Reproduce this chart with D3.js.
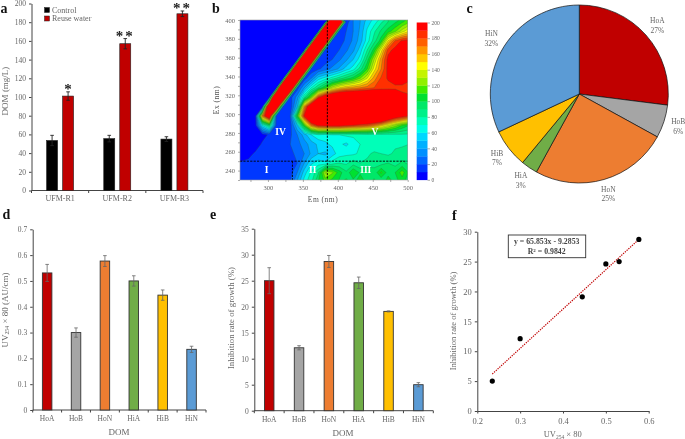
<!DOCTYPE html>
<html><head><meta charset="utf-8">
<script src="https://cdn.jsdelivr.net/npm/d3@7"></script>
<style>
html,body{margin:0;padding:0;background:#fff}
svg{display:block;filter:blur(0.3px)}
text{font-family:"Liberation Serif",serif;fill:#666}
</style></head><body><div id="c"></div>
<script>
// ---- panel a
const filmGroups=["UFM-R1","UFM-R2","UFM-R3"];
const controlDom=[53.5,55.5,55];
const controlErr=[5.5,3.5,2.5];
const reuseDom=[101,157,189];
const reuseErr=[4.5,5.5,3];
const reuseStars=["*","**","**"];
const domTicks=[0,20,40,60,80,100,120,140,160,180,200];
// ---- panel b: fluorescence EEM read by eye (10 nm steps; scatter ridge values are off-scale)
const emStart=262, exStart=398, gridStep=10;
const eem=[
[0,0,0,0,0,0,0,0,0,0,0,0,0,475,306,15,30,40,55,65,78,90,98,108,118],
[0,0,0,0,0,0,0,0,0,0,0,0,475,306,10,20,30,42,62,78,92,105,118,135,150],
[0,0,0,0,0,0,0,0,0,0,0,475,306,10,15,22,32,45,65,85,105,150,180,192,195],
[0,0,0,0,0,0,0,0,0,0,475,306,12,15,20,28,38,55,80,105,145,185,195,200,195],
[0,0,0,0,0,0,0,0,0,475,306,12,15,20,28,38,50,65,95,130,165,195,205,210,205],
[0,0,0,0,0,0,0,0,475,306,12,18,25,33,42,55,65,85,110,145,170,195,205,210,205],
[0,0,0,0,0,0,0,475,306,15,30,55,65,75,85,95,105,120,140,165,182,192,200,200,195],
[0,0,0,0,0,0,475,306,15,40,70,90,110,135,150,160,165,170,175,180,182,184,186,186,180],
[0,0,0,0,0,400,280,15,35,80,120,185,215,230,240,240,240,240,240,240,240,230,215,195,195],
[0,0,0,0,280,260,15,12,50,165,225,260,260,260,260,260,260,260,260,260,260,260,260,260,260],
[0,0,0,170,230,15,10,20,110,195,260,260,260,260,260,260,260,260,260,260,260,230,210,200,190],
[0,0,5,60,90,15,10,15,50,110,170,195,200,200,200,195,190,185,180,170,155,140,125,110,100],
[0,0,0,5,12,15,15,18,30,45,60,68,65,70,70,72,72,74,75,75,76,76,77,78,78],
[0,0,3,12,14,15,16,20,26,35,45,52,58,62,62,58,65,70,72,72,75,78,78,78,80],
[2,6,12,13,14,15,16,18,22,30,42,50,48,55,65,68,68,72,78,82,80,78,82,85,80],
[12,13,13,13,14,14,15,14,20,40,58,65,62,75,80,78,85,80,82,88,85,90,85,92,88],
[14,18,17,16,17,18,19,16,30,55,72,88,132,122,105,92,110,98,100,92,112,95,100,115,98],
[15,20,20,18,18,20,20,20,42,65,78,100,112,104,98,104,96,108,96,104,90,108,96,104,92]
];
const eemLevels=d3.range(0,200,10);
const eemColors=["#0000ff","#0038ff","#0068ff","#0090ff","#00b0ff","#00d8ff","#00ffe8","#00ffb8","#00f088","#00e868","#00e030","#40ec00","#90f000","#c4f400","#ffff00","#ffc800","#ff9600","#ff6000","#ff3000","#ff0000"];
const emTicks=[300,350,400,450,500];
const emMinor=[275,300,325,350,375,400,425,450,475,500];
const exTicks=[240,260,280,300,320,340,360,380,400];
const exMinor=[230,240,250,260,270,280,290,300,310,320,330,340,350,360,370,380,390,400];
const barTicks=[0,20,40,60,80,100,120,140,160,180,200];
const regionLabels=["I","II","III","IV","V"];
const regionEm=[298,364,440,318,453];
const regionEx=[240,240,240,280,280];
const dashEm=[385,335];
const dashEx=250;
// ---- panel c
const fractions=["HoA","HoB","HoN","HiA","HiB","HiN"];
const fractionShare=[27,6,25,3,7,32];
const fractionColors=["#c00000","#a5a5a5","#ed7d31","#70ad47","#ffc000","#5b9bd5"];
// ---- panel d
const uvValues=[0.531,0.30,0.577,0.50,0.445,0.235];
const uvErr=[0.033,0.018,0.021,0.02,0.02,0.012];
const uvTicks=[0,0.1,0.2,0.3,0.4,0.5,0.6,0.7];
// ---- panel e
const inhibValues=[25,12.1,28.7,24.6,19.1,5];
const inhibErr=[2.5,0.4,1.15,1.1,0.1,0.4];
const inhibTicks=[0,5,10,15,20,25,30,35];
// ---- panel f
const uvSorted=[0.235,0.30,0.445,0.50,0.531,0.577];
const inhibSorted=[5,12.1,19.1,24.6,25,28.7];
const fitSlope=65.853, fitIntercept=-9.2853;
const fXTicks=[0.2,0.3,0.4,0.5,0.6];
const fYTicks=[0,5,10,15,20,25,30];

const W=685,H=439,axisCol="#444",txt="#666";
const svg=d3.select("#c").append("svg").attr("width",W).attr("height",H).attr("viewBox",[0,0,W,H]);

function styleAxis(g,fs){
  g.selectAll("path,line").attr("stroke",axisCol).attr("stroke-width",1);
  g.selectAll("text").attr("font-size",fs).attr("fill",txt);
}
function panelLetter(s,x,y){
  svg.append("text").attr("x",x).attr("y",y).text(s).attr("font-size",14).attr("font-weight","bold").style("fill","#111");
}
function bandAxis(y0,x0,x1,cats,fs,labelDy){
  const b=d3.scaleBand().domain(cats).range([x0,x1]);
  const g=svg.append("g").attr("transform",`translate(0,${y0})`);
  g.call(d3.axisBottom(b).tickSize(0).tickPadding(labelDy));
  g.select(".domain").remove();
  g.selectAll("line.b").data(d3.range(cats.length+1)).join("line").attr("class","b")
    .attr("x1",i=>x0+i*b.step()).attr("x2",i=>x0+i*b.step()).attr("y1",0).attr("y2",2.5);
  g.append("line").attr("x1",x0).attr("x2",x1);
  styleAxis(g,fs);
  return b;
}
function leftAxis(x0,y,ticks,fs,fmt){
  const g=svg.append("g").attr("transform",`translate(${x0},0)`);
  g.call(d3.axisLeft(y).tickValues(ticks).tickSize(2.5).tickSizeOuter(0).tickPadding(3).tickFormat(fmt||d3.format("")));
  styleAxis(g,fs);
  return g;
}
function errBars(sel,xf,yScale,vals,errs,cap,col,sw){
  const idx=d3.range(vals.length);
  sel.selectAll("path.e").data(idx).join("path").attr("class","e").attr("fill","none").attr("stroke",col).attr("stroke-width",sw)
    .attr("d",i=>{const x=xf(i),a=yScale(vals[i]+errs[i]),b=yScale(vals[i]-errs[i]);
      return `M${x-cap},${a}H${x+cap}M${x},${a}V${b}M${x-cap},${b}H${x+cap}`;});
}
function vLabel(x,y,fs){
  return svg.append("text").attr("transform",`translate(${x},${y}) rotate(-90)`).attr("text-anchor","middle").attr("dominant-baseline","middle").attr("font-size",fs);
}
function uvLabel(t,fs,tail){
  t.append("tspan").text("UV");
  t.append("tspan").text("254").attr("font-size",fs*0.65).attr("dy",2);
  t.append("tspan").text(tail).attr("dy",-2);
}

// ===== a
(function(){
  const y=d3.scaleLinear().domain([0,200]).range([190.5,3.5]);
  const b=bandAxis(190.5,31.5,203,filmGroups,8,5);
  leftAxis(31.5,y,domTicks,7.5);
  const bw=11, off=8;
  const g=svg.append("g");
  const cx=i=>b(filmGroups[i])+b.bandwidth()/2;
  const c=g.append("g"), r=g.append("g");
  [[c,controlDom,controlErr,-off,"#000"],[r,reuseDom,reuseErr,off,"#c00000"]].forEach(([s,v,e,o,col])=>{
    s.selectAll("rect").data(v).join("rect").attr("x",(d,i)=>cx(i)+o-bw/2).attr("width",bw)
      .attr("y",d=>y(d)).attr("height",d=>y(0)-y(d)).attr("fill",col).attr("stroke","#222").attr("stroke-width",.6);
    errBars(s,i=>cx(i)+o,y,v,e,1.8,"#222",.9);
  });
  g.selectAll("text.st").data(reuseStars).join("text").attr("class","st").attr("text-anchor","middle")
    .attr("x",(d,i)=>cx(i)+off).attr("y",(d,i)=>y(reuseDom[i]+reuseErr[i])+2).text(d=>d)
    .attr("font-size",15).attr("font-weight","bold").attr("letter-spacing",(d)=>d.length>1?2:0).style("fill","#222");
  vLabel(6,91,9).text("DOM (mg/L)");
  [["Control","#000",10],["Reuse water","#c00000",18.5]].forEach(([t,col,yy])=>{
    svg.append("rect").attr("x",44.5).attr("y",yy-2.5).attr("width",5).attr("height",5).attr("fill",col).attr("stroke","#222").attr("stroke-width",.5);
    svg.append("text").attr("x",52).attr("y",yy+2.5).attr("font-size",8).text(t);
  });
  panelLetter("a",0.5,12.6);
})();

// ===== b
(function(){
  const x0=240,x1=407.7,y0=20,y1=180;
  const x=d3.scaleLinear().domain([260,500]).range([x0,x1]);
  const y=d3.scaleLinear().domain([230,400]).range([y1,y0]);
  const ny=eem.length, nx=eem[0].length;
  const flat=eem.flat();
  const contours=d3.contours().size([nx,ny]).thresholds(eemLevels)(flat);
  const proj=d3.geoTransform({point(px,py){
    this.stream.point(x(emStart+(px-0.5)*gridStep),y(exStart-(py-0.5)*gridStep));
  }});
  const path=d3.geoPath(proj);
  svg.append("clipPath").attr("id","plotb").append("rect").attr("x",x0).attr("y",y0).attr("width",x1-x0).attr("height",y1-y0);
  const g=svg.append("g").attr("clip-path","url(#plotb)");
  g.selectAll("path").data(contours).join("path").attr("d",path)
    .attr("fill",(d,i)=>eemColors[i])
    .attr("stroke",(d,i)=>i===0?"none":"#2f5a35").attr("stroke-opacity",.55).attr("stroke-width",.5);
  const dash=svg.append("g").attr("stroke","#000").attr("stroke-width",.9).attr("stroke-dasharray","2.2 1.2");
  dash.append("line").attr("x1",x0).attr("x2",x1).attr("y1",y(dashEx)).attr("y2",y(dashEx));
  dash.append("line").attr("x1",x(dashEm[0])).attr("x2",x(dashEm[0])).attr("y1",y0).attr("y2",y1);
  dash.append("line").attr("x1",x(dashEm[1])).attr("x2",x(dashEm[1])).attr("y1",y(dashEx)).attr("y2",y1);
  svg.selectAll("text.rg").data(regionLabels).join("text").attr("class","rg").text(d=>d)
    .attr("x",(d,i)=>x(regionEm[i])).attr("y",(d,i)=>y(regionEx[i])).attr("text-anchor","middle").attr("dominant-baseline","middle")
    .attr("font-size",9.5).attr("font-weight","bold").style("fill","#fff");
  svg.append("rect").attr("x",x0).attr("y",y0).attr("width",x1-x0).attr("height",y1-y0).attr("fill","none").attr("stroke","#999").attr("stroke-width",.6);
  const ax=svg.append("g").attr("transform",`translate(0,${y1})`).call(d3.axisBottom(x).tickValues(emMinor).tickSize(2).tickSizeOuter(0).tickFormat(d=>emTicks.includes(d)?d:""));
  ax.select(".domain").remove(); styleAxis(ax,6.5); ax.selectAll("line").attr("stroke","#777").attr("stroke-width",.6);
  const ay=svg.append("g").attr("transform",`translate(${x0},0)`).call(d3.axisLeft(y).tickValues(exMinor).tickSize(2).tickSizeOuter(0).tickFormat(d=>exTicks.includes(d)?d:""));
  ay.select(".domain").remove(); styleAxis(ay,6.5); ay.selectAll("line").attr("stroke","#777").attr("stroke-width",.6);
  svg.append("text").attr("x",323).attr("y",202).attr("text-anchor","middle").attr("font-size",7.5).attr("letter-spacing",.5).style("fill","#555").text("Em (nm)");
  vLabel(217,100,7.5).attr("letter-spacing",.5).style("fill","#555").text("Ex (nm)");
  const cb=d3.scaleLinear().domain([0,200]).range([179.8,22.5]);
  svg.selectAll("rect.cb").data(eemLevels).join("rect").attr("class","cb").attr("x",416.7).attr("width",10.8)
    .attr("y",d=>cb(d+10)).attr("height",d=>cb(d)-cb(d+10)+.3).attr("fill",(d,i)=>eemColors[i]);
  const ac=svg.append("g").attr("transform","translate(427.5,0)").call(d3.axisRight(cb).tickValues(barTicks).tickSize(2.5).tickPadding(1.5).tickSizeOuter(0));
  ac.select(".domain").remove(); styleAxis(ac,5.5); ac.selectAll("line").attr("stroke","#777").attr("stroke-width",.6);
  panelLetter("b",212,12.6);
})();

// ===== c
(function(){
  const cx=579.3,cy=94,r=89;
  const arcs=d3.pie().sort(null).value(d=>d)(fractionShare);
  const arc=d3.arc().innerRadius(0).outerRadius(r);
  const lab=d3.arc().innerRadius(104).outerRadius(104);
  const g=svg.append("g").attr("transform",`translate(${cx},${cy})`);
  g.selectAll("path").data(arcs).join("path").attr("d",arc).attr("fill",(d,i)=>fractionColors[i]).attr("stroke","#111").attr("stroke-width",.7);
  const t=g.selectAll("text").data(arcs).join("text").attr("text-anchor","middle").attr("font-size",7.5)
    .attr("transform",d=>`translate(${lab.centroid(d)})`);
  t.append("tspan").attr("x",0).attr("dy",-2).text((d,i)=>fractions[i]);
  t.append("tspan").attr("x",0).attr("dy",9.5).text(d=>d.value+"%");
  panelLetter("c",466.5,12.6);
})();

// ===== d, e
function fractionBars(x0,x1,y0,yTop,max,ticks,vals,errs,fmt){
  const y=d3.scaleLinear().domain([0,max]).range([y0,yTop]);
  const b=bandAxis(y0,x0,x1,fractions,7.5,6);
  leftAxis(x0,y,ticks,7.5,fmt);
  const cx=i=>b(fractions[i])+b.bandwidth()/2, bw=9.5;
  const g=svg.append("g");
  g.selectAll("rect").data(vals).join("rect").attr("x",(d,i)=>cx(i)-bw/2).attr("width",bw)
    .attr("y",d=>y(d)).attr("height",d=>y0-y(d)).attr("fill",(d,i)=>fractionColors[i]).attr("stroke","#333").attr("stroke-width",.9);
  errBars(g,cx,y,vals,errs,1.8,"#666",.8);
}
fractionBars(32.7,206,410,229.3,0.7,uvTicks,uvValues,uvErr,d=>d===0?"0":d3.format(".1f")(d));
uvLabel(vLabel(5.7,310,9),9," × 80 (AU/cm)");
svg.append("text").attr("x",119).attr("y",435).attr("text-anchor","middle").attr("font-size",9).text("DOM");
panelLetter("d",2.5,219);

fractionBars(254.3,433.3,410.7,228.7,35,inhibTicks,inhibValues,inhibErr);
vLabel(232.3,318,8.8).text("Inhibition rate of growth (%)");
svg.append("text").attr("x",343).attr("y",436).attr("text-anchor","middle").attr("font-size",9).text("DOM");
panelLetter("e",210,219);

// ===== f
(function(){
  const x=d3.scaleLinear().domain([0.2,0.6]).range([477.3,648.7]);
  const y=d3.scaleLinear().domain([0,30]).range([411,231.7]);
  const ax=svg.append("g").attr("transform","translate(0,411)").call(d3.axisBottom(x).tickValues(fXTicks).tickSize(2.5).tickSizeOuter(0).tickPadding(4).tickFormat(d3.format(".1f")));
  styleAxis(ax,8.5);
  const ay=svg.append("g").attr("transform","translate(477.3,0)").call(d3.axisLeft(y).tickValues(fYTicks).tickSize(2.5).tickSizeOuter(0).tickPadding(3));
  styleAxis(ay,8.5);
  const xr=d3.extent(uvSorted);
  svg.append("line").attr("x1",x(xr[0])).attr("x2",x(xr[1]))
    .attr("y1",y(fitSlope*xr[0]+fitIntercept)).attr("y2",y(fitSlope*xr[1]+fitIntercept))
    .attr("stroke","#c00000").attr("stroke-width",1.2).attr("stroke-dasharray","1.3 1.1");
  svg.selectAll("circle.p").data(uvSorted).join("circle").attr("class","p")
    .attr("cx",d=>x(d)).attr("cy",(d,i)=>y(inhibSorted[i])).attr("r",2.6).attr("fill","#000");
  svg.append("rect").attr("x",508.3).attr("y",235).attr("width",77.4).attr("height",22.7).attr("fill","#fff").attr("stroke","#333").attr("stroke-width",.9);
  const l=svg.append("text").attr("x",546.7).attr("y",244).attr("text-anchor","middle").attr("font-size",7.8).attr("font-weight","bold").style("fill","#444");
  l.text("y = 65.853x - 9.2853");
  const l2=svg.append("text").attr("x",546.7).attr("y",254).attr("text-anchor","middle").attr("font-size",7.8).attr("font-weight","bold").style("fill","#444");
  l2.append("tspan").text("R");
  l2.append("tspan").text("2").attr("font-size",5).attr("dy",-2.5);
  l2.append("tspan").text(" = 0.9842").attr("dy",2.5);
  const t=svg.append("text").attr("x",562.7).attr("y",437).attr("text-anchor","middle").attr("font-size",8.5);
  uvLabel(t,8.5," × 80");
  vLabel(454,321,8.5).text("Inhibition rate of growth (%)");
  panelLetter("f",452,220);
})();
</script></body></html>
